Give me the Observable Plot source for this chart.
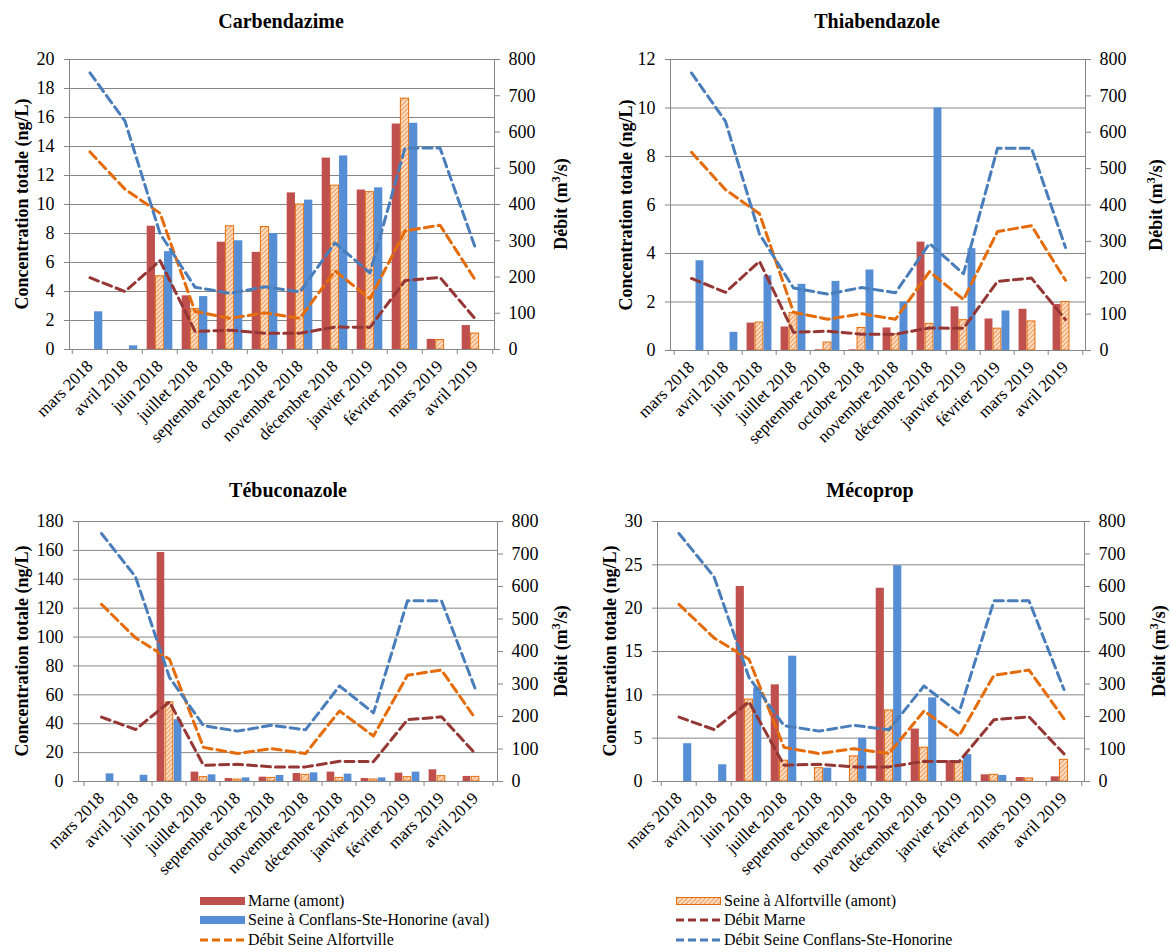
<!DOCTYPE html>
<html><head><meta charset="utf-8">
<script src="https://cdn.jsdelivr.net/npm/d3@7"></script>
<script src="https://cdn.jsdelivr.net/npm/@observablehq/plot@0.6"></script>
<style>
body{margin:0;background:#fff;font-family:"Liberation Serif","Times New Roman","DejaVu Serif",serif;color:#000}
#root{position:relative;width:1171px;height:952px;overflow:hidden;background:#fff}
svg text{font-family:"Liberation Serif","Times New Roman","DejaVu Serif",serif}
.abs{position:absolute;white-space:nowrap}
.ttl{font-weight:bold;font-size:20px;transform:translate(-50%,-50%)}
.ax{font-weight:bold;font-size:18px;transform:translate(-50%,-50%) rotate(-90deg)}
.panel{position:absolute}
.leg{position:absolute;font-size:16px;display:flex;align-items:center;white-space:nowrap}
.leg svg{margin-right:2px}
</style></head><body><div id="root"></div>
<script>
const months = ["mars 2018","avril 2018","juin 2018","juillet 2018","septembre 2018","octobre 2018","novembre 2018","décembre 2018","janvier 2019","février 2019","mars 2019","avril 2019"];

// Débits (m³/s), axe secondaire
const debitMarne       = [198,160,245,50,53,45,45,62,61,190,199,85];
const debitAlfortville = [545,442,376,105,86,101,86,217,140,327,343,193];
const debitConflans    = [763,630,320,172,155,173,159,294,211,556,556,283];

// Carbendazime (ng/L)
const carbMarne    = [null,null,8.5,3.7,7.4,6.7,10.8,13.2,11.0,15.55,0.7,1.65];
const carbAlfort   = [null,null,5.05,2.8,8.5,8.45,10.0,11.3,10.85,17.3,0.65,1.1];
const carbConflans = [2.6,0.25,6.75,3.65,7.5,8.0,10.3,13.35,11.15,15.6,null,null];

// Thiabendazole (ng/L)
const thiaMarne    = [null,null,1.13,0.97,0.03,0.03,0.93,4.47,1.8,1.3,1.7,1.9];
const thiaAlfort   = [null,null,1.15,1.55,0.33,0.93,0.67,1.1,1.25,0.9,1.2,2.0];
const thiaConflans = [3.7,0.75,3.08,2.73,2.85,3.32,2.0,10.0,4.2,1.63,null,null];

// Tébuconazole (ng/L)
const tebuMarne    = [null,null,158.5,6.5,2.1,3.0,5.5,6.5,2.1,5.8,8.1,3.5];
const tebuAlfort   = [null,null,54.8,3.0,1.3,2.5,4.6,2.5,1.4,3.0,3.7,3.2];
const tebuConflans = [5.3,4.3,42.8,4.6,2.5,4.2,6.0,5.1,2.5,6.5,null,null];

// Mécoprop (ng/L)
const mecoMarne    = [null,null,22.5,11.15,null,null,22.3,6.05,2.4,0.77,0.46,0.54];
const mecoAlfort   = [null,null,9.45,2.4,1.54,2.9,8.2,3.9,2.3,0.77,0.35,2.5];
const mecoConflans = [4.36,1.93,10.8,14.46,1.54,5.0,24.9,9.65,3.1,0.7,null,null];

const titles = ["Carbendazime","Thiabendazole","Tébuconazole","Mécoprop"];
const yLabel = "Concentration totale (ng/L)";

const FONT = "'Liberation Serif','Times New Roman','DejaVu Serif',serif";
const C = {marne:"#c0504d", conflans:"#558ed5", alfortStroke:"#e46c0a",
           lMarne:"#953735", lAlfort:"#e46c0a", lConflans:"#4a7ebb", grid:"#868686"};

const panels = [
  {title:titles[0], ymax:20, step:2, s:[carbMarne,carbAlfort,carbConflans],
   left:0, top:40, width:585, height:420, mL:69, mR:91, mT:19, mB:111, tx:281, ty:21, ax:22, dx:560},
  {title:titles[1], ymax:12, step:2, s:[thiaMarne,thiaAlfort,thiaConflans],
   left:585, top:40, width:586, height:420, mL:85, mR:86, mT:19, mB:110, tx:877, ty:21, ax:626, dx:1155},
  {title:titles[2], ymax:180, step:20, s:[tebuMarne,tebuAlfort,tebuConflans],
   left:0, top:505, width:585, height:400, mL:78, mR:88, mT:16, mB:124, tx:288, ty:490, ax:22, dx:560},
  {title:titles[3], ymax:30, step:5, s:[mecoMarne,mecoAlfort,mecoConflans],
   left:585, top:505, width:586, height:400, mL:72, mR:87, mT:16, mB:124, tx:870, ty:490, ax:610, dx:1158}
];

const root = document.getElementById("root");

function addHatch(svg, id){
  const defs = d3.select(svg).insert("defs", ":first-child");
  const pat = defs.append("pattern").attr("id", id).attr("patternUnits","userSpaceOnUse")
    .attr("width",3.2).attr("height",3.2).attr("patternTransform","rotate(-45)");
  pat.append("rect").attr("width",3.2).attr("height",3.2).attr("fill","#fde3cc");
  pat.append("rect").attr("width",3.2).attr("height",1.3).attr("fill","#f2a065");
}

panels.forEach((p, idx) => {
  const k = p.ymax / 800;
  const band = (p.width - p.mL - p.mR) / months.length;
  const bw = band * 0.245, gap = band - 3 * bw;
  const fills = [C.marne, `url(#hatch${idx})`, C.conflans];
  const strokes = ["none", C.alfortStroke, "none"];
  const bars = p.s.map((vals, j) =>
    Plot.barY(months.map((m, i) => ({m, v: vals[i]})).filter(d => d.v != null), {
      x: "m", y: "v", fill: fills[j], stroke: strokes[j], strokeWidth: 1,
      insetLeft: gap / 2 + j * bw, insetRight: gap / 2 + (2 - j) * bw
    }));
  const flows = [[debitMarne, C.lMarne], [debitAlfortville, C.lAlfort], [debitConflans, C.lConflans]];
  const lines = flows.map(([vals, col]) =>
    Plot.line(months.map((m, i) => ({m, v: vals[i]})), {
      x: "m", y: d => d.v * k, stroke: col, strokeWidth: 3, strokeDasharray: "9,5"
    }));
  const svg = Plot.plot({
    width: p.width, height: p.height,
    marginLeft: p.mL, marginRight: p.mR, marginTop: p.mT, marginBottom: p.mB,
    style: {fontFamily: FONT, fontSize: "17px", background: "transparent", overflow: "visible"},
    x: {type: "band", domain: months, paddingInner: 0, paddingOuter: 0, label: null},
    y: {domain: [0, p.ymax], label: null},
    marks: [
      Plot.gridY({ticks: d3.range(0, p.ymax + p.step / 2, p.step), stroke: C.grid, strokeOpacity: 1}),
      ...bars,
      Plot.frame({stroke: C.grid}),
      Plot.axisY({ticks: d3.range(0, p.ymax + p.step / 2, p.step), tickSize: 5, tickPadding: 10,
        stroke: C.grid, fontSize: 18, label: null, tickFormat: d => d}),
      Plot.axisY(d3.range(0, 801, 100).map(v => v * k), {anchor: "right", tickSize: 5, tickPadding: 9,
        stroke: C.grid, fontSize: 18, label: null, tickFormat: d => Math.round(d / k)}),
      Plot.axisX({tickSize: 5, dx: -band / 2, stroke: C.grid, label: null, tickFormat: () => ""}),
      Plot.axisX([months[months.length - 1]], {tickSize: 5, dx: band / 2, stroke: C.grid, label: null, tickFormat: () => ""}),
      Plot.axisX({tickRotate: -45, tickSize: 0, tickPadding: 14, fontSize: 17, label: null}),
      ...lines
    ]
  });
  addHatch(svg, "hatch" + idx);
  const div = document.createElement("div");
  div.className = "panel";
  div.style.left = p.left + "px"; div.style.top = p.top + "px";
  div.appendChild(svg);
  root.appendChild(div);

  const cy = p.top + p.mT + (p.height - p.mT - p.mB) / 2;
  const t = document.createElement("div");
  t.className = "abs ttl"; t.textContent = p.title;
  t.style.left = p.tx + "px"; t.style.top = p.ty + "px";
  root.appendChild(t);
  const a = document.createElement("div");
  a.className = "abs ax"; a.textContent = yLabel;
  a.style.left = p.ax + "px"; a.style.top = cy + "px";
  root.appendChild(a);
  const b = document.createElement("div");
  b.className = "abs ax"; b.innerHTML = "Débit (m<sup style='font-size:12px'>3</sup>/s)";
  b.style.left = p.dx + "px"; b.style.top = cy + "px";
  root.appendChild(b);
});

// Legend
const legendItems = [
  {label: "Marne (amont)", type: "rect", color: C.marne, x: 200, y: 901},
  {label: "Seine à Conflans-Ste-Honorine (aval)", type: "rect", color: C.conflans, x: 200, y: 920},
  {label: "Débit Seine Alfortville", type: "line", color: C.lAlfort, x: 200, y: 940},
  {label: "Seine à Alfortville (amont)", type: "hatch", color: C.alfortStroke, x: 676, y: 901},
  {label: "Débit Marne", type: "line", color: C.lMarne, x: 676, y: 920},
  {label: "Débit Seine Conflans-Ste-Honorine", type: "line", color: C.lConflans, x: 676, y: 940}
];
legendItems.forEach(it => {
  const d = document.createElement("div");
  d.className = "leg";
  d.style.left = it.x + "px"; d.style.top = (it.y - 10) + "px"; d.style.height = "20px";
  const s = d3.create("svg").attr("width", 46).attr("height", 12);
  if (it.type === "rect") {
    s.append("rect").attr("x", 0).attr("y", 2).attr("width", 45).attr("height", 8).attr("fill", it.color);
  } else if (it.type === "hatch") {
    const pat = s.append("defs").append("pattern").attr("id", "hatchLeg").attr("patternUnits", "userSpaceOnUse")
      .attr("width", 3.2).attr("height", 3.2).attr("patternTransform", "rotate(-45)");
    pat.append("rect").attr("width", 3.2).attr("height", 3.2).attr("fill", "#fde3cc");
    pat.append("rect").attr("width", 3.2).attr("height", 1.3).attr("fill", "#f2a065");
    s.append("rect").attr("x", 0.5).attr("y", 2.5).attr("width", 44).attr("height", 7)
      .attr("fill", "url(#hatchLeg)").attr("stroke", it.color);
  } else {
    s.append("line").attr("x1", 0).attr("x2", 45).attr("y1", 6).attr("y2", 6)
      .attr("stroke", it.color).attr("stroke-width", 3).attr("stroke-dasharray", "8,4");
  }
  d.appendChild(s.node());
  const sp = document.createElement("span");
  sp.textContent = it.label;
  d.appendChild(sp);
  root.appendChild(d);
});
</script></body></html>
